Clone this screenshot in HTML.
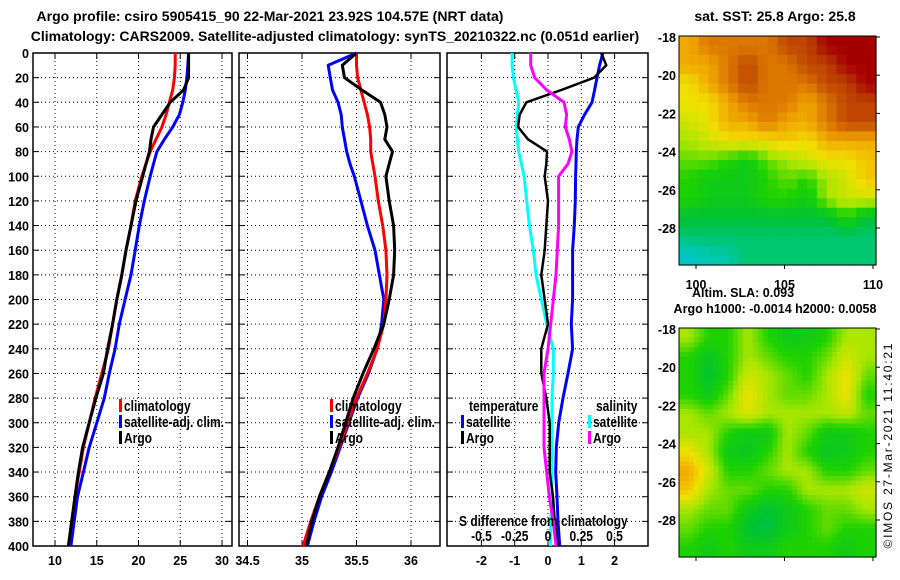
<!DOCTYPE html>
<html><head><meta charset="utf-8">
<style>
html,body{margin:0;padding:0;background:#fff;}
svg{display:block;}
text{font-family:"Liberation Sans",sans-serif;font-weight:bold;fill:#000;}
.t{font-size:14px;}
.k{font-size:12.5px;}
.l{font-size:15px;font-family:"Liberation Sans Narrow","Liberation Sans",sans-serif;}
</style></head>
<body>
<svg id="c" width="900" height="580" viewBox="0 0 900 580" xmlns="http://www.w3.org/2000/svg">
<text class="t" x="270" y="21" text-anchor="middle">Argo profile: csiro 5905415_90 22-Mar-2021 23.92S 104.57E (NRT data)</text>
<text class="t" x="335" y="41" text-anchor="middle">Climatology: CARS2009. Satellite-adjusted climatology: synTS_20210322.nc (0.051d earlier)</text>
<text class="t" x="775" y="21" text-anchor="middle" font-size="12.5">sat. SST: 25.8 Argo: 25.8</text>
<text class="k" x="743" y="297" text-anchor="middle">Altim. SLA: 0.093</text>
<text class="k" x="775" y="313" text-anchor="middle">Argo h1000: -0.0014 h2000: 0.0058</text>
<text x="892" y="446" font-size="12" style="font-weight:normal" text-anchor="middle" textLength="205" lengthAdjust="spacing" transform="rotate(-90 892 446)">©IMOS 27-Mar-2021 11:40:21</text>
</svg>
<script>
const depths=[0,10,20,30,40,50,60,70,80,90,100,120,140,160,180,200,220,240,260,280,300,320,340,360,380,400];
const tempClim=[24.4,24.4,24.3,24.1,23.7,23.3,22.8,22.1,21.4,20.9,20.4,19.6,19.1,18.5,18.0,17.4,16.9,16.4,15.6,14.8,14.1,13.4,12.9,12.4,12.0,11.6];
const tempSat=[26.0,25.9,25.8,25.6,25.3,24.9,24.1,23.1,22.2,21.8,21.4,20.7,20.1,19.6,19.1,18.4,17.7,17.2,16.5,15.9,15.0,14.1,13.4,12.7,12.3,11.9];
const tempArgo=[26.0,26.0,26.0,25.4,23.8,22.8,21.8,21.5,21.3,20.9,20.5,19.7,19.1,18.5,18.0,17.4,16.9,16.3,15.8,14.9,14.1,13.3,12.8,12.4,12.0,11.6];
const salClim=[35.5,35.5,35.51,35.54,35.57,35.6,35.62,35.63,35.63,35.65,35.67,35.7,35.74,35.77,35.78,35.77,35.75,35.69,35.6,35.5,35.42,35.34,35.25,35.16,35.08,35.01];
const salSat=[35.5,35.24,35.26,35.28,35.33,35.36,35.37,35.39,35.41,35.44,35.48,35.54,35.6,35.67,35.71,35.75,35.73,35.69,35.61,35.51,35.43,35.35,35.27,35.18,35.11,35.05];
const salArgo=[35.5,35.37,35.39,35.55,35.72,35.76,35.78,35.76,35.83,35.8,35.77,35.8,35.84,35.85,35.84,35.8,35.75,35.66,35.56,35.47,35.4,35.33,35.25,35.16,35.09,35.04];
const tDiffSat=[1.65,1.55,1.47,1.4,1.32,1.1,0.91,0.87,0.85,0.84,0.83,0.82,0.79,0.74,0.74,0.74,0.7,0.74,0.6,0.45,0.32,0.25,0.23,0.27,0.3,0.35];
const tDiffArgo=[1.6,1.75,1.38,0.4,-0.65,-0.85,-0.9,-0.6,-0.03,-0.05,-0.1,0,-0.05,-0.1,-0.2,-0.1,0,-0.2,-0.2,-0.05,0.05,0.05,0.05,0.15,0.2,0.3];
const sDiffSat=[-0.27,-0.27,-0.26,-0.24,-0.22,-0.23,-0.24,-0.23,-0.22,-0.2,-0.18,-0.16,-0.14,-0.11,-0.09,-0.05,-0.01,0.04,0.04,0.03,0.03,0.03,0.03,0.03,0.02,0.02];
const sDiffArgo=[-0.13,-0.13,-0.1,-0.01,0.12,0.14,0.13,0.16,0.18,0.15,0.08,0.08,0.08,0.07,0.06,0.04,0.02,0.0,-0.03,-0.03,-0.03,-0.03,-0.01,0.01,0.04,0.06];
const depthTicks=[0,20,40,60,80,100,120,140,160,180,200,220,240,260,280,300,320,340,360,380,400];
const tempTicks=[10,15,20,25,30];
const salTicks=[34.5,35,35.5,36];
const diffTicks=[-2,-1,0,1,2];
const sDiffTickLabels=["-0.5","-0.25","0","0.25","0.5"];
const sDiffTicks=[-0.5,-0.25,0,0.25,0.5];
const latTicks=[-18,-20,-22,-24,-26,-28];
const lonTicks=[100,105,110];
const sstGrid=[
[6,7,7,7,7,8,8,9,9,9],[6,6,7,8,7,7,8,8,9,9],[5,6,7,8,7,7,7,8,8,9],[5,5,6,7,7,7,6,7,8,8],
[4.5,5,6,6,7,6,6,7,8,8],[4,4.5,5,5,5,5.5,5,6,6,6],[3.5,3.5,3,2.5,3.5,4,4.5,5,5,5.5],[3,2.5,2.5,2.5,3,3.5,3,4,4.5,5.5],
[3,2.5,2.5,2.5,3,3,2.5,4,4.5,4.5],[2,2,2,2,2,2,2,2,3,2],[1.5,1.5,1.5,1.5,1.5,1.5,1.5,1.5,1.5,1.5],[0.5,1,1,1.5,1.5,1.5,1.5,1.5,1.5,1.5]];
const slaGrid=[
[4,3,3,4,3,2.5,2.5,3,4,4],[3,2.3,3,4,3.5,3,3,3.5,4.5,4],[3,2,3,4.5,4,3.5,3,4,5,3.5],[3,2.5,3.5,5,4,3.5,3.5,4,5,3],
[4,3.5,4,4.7,4,4,4,4,4.3,3.5],[4,4,3,2.5,2.5,4,3.5,2.5,2.5,3],[5,4,2.5,2.3,3,4,3,2.3,2.5,3],[6,4.5,3,3,3.5,4,4,3,3,3.5],
[5.5,4,3.5,3.5,3,3,4,4,4,4.5],[4,3.5,3.5,2.5,2,2.5,3,3.5,3.5,4],[3.5,3,3,2,1.8,2.5,3,3.5,3,3],[3,2.5,3,2.5,2.5,3,3,3,2.5,3]];

const NS="http://www.w3.org/2000/svg";
const svg=document.getElementById('c');
function mk(tag,attrs,parent){const e=document.createElementNS(NS,tag);for(const k in attrs)e.setAttribute(k,attrs[k]);(parent||svg).appendChild(e);return e;}
const Y0=53,Y1=546;
function yD(d){return Y0+(Y1-Y0)*d/400;}
const panels=[
 {x0:33,x1:232,name:'temperature-panel'},
 {x0:239,x1:440,name:'salinity-panel'},
 {x0:447,x1:648,name:'difference-panel'}];
const xT=v=>55+(v-10)*(222-55)/20;
const xS=v=>302+(v-35)*109;
const xD=v=>548+v*33.3;
const xSD=v=>548+v*133;

function grid(p,xs){
  const g=mk('g',{});
  
  
  depthTicks.forEach(d=>{if(d>0&&d<400){mk('line',{x1:p.x0,x2:p.x1,y1:yD(d),y2:yD(d),stroke:'#000','stroke-width':1,'stroke-dasharray':'1 3'},g);}
    mk('line',{x1:p.x0,x2:p.x0+6,y1:yD(d),y2:yD(d),stroke:'#000'},g);
    mk('line',{x1:p.x1-6,x2:p.x1,y1:yD(d),y2:yD(d),stroke:'#000'},g);});
  xs.forEach(x=>{if(x>p.x0+2&&x<p.x1-2)mk('line',{x1:x,x2:x,y1:Y0,y2:Y1,stroke:'#000','stroke-dasharray':'1 3'},g);
    mk('line',{x1:x,x2:x,y1:Y1,y2:Y1-6,stroke:'#000'},g);mk('line',{x1:x,x2:x,y1:Y0,y2:Y0+6,stroke:'#000'},g);});
  const r=mk('rect',{x:p.x0,y:Y0,width:p.x1-p.x0,height:Y1-Y0,fill:'none',stroke:'#000','stroke-width':1.5},g);
  
  
}
grid(panels[0],tempTicks.map(xT));
grid(panels[1],salTicks.map(xS));
grid(panels[2],diffTicks.map(xD));

depthTicks.forEach(d=>{const t=mk('text',{x:29,y:yD(d)+5,'text-anchor':'end',class:'k'});t.textContent=d;
 
 });
tempTicks.forEach(v=>{const t=mk('text',{x:xT(v),y:565,'text-anchor':'middle',class:'k'});t.textContent=v;
 
 });
salTicks.forEach(v=>{const t=mk('text',{x:xS(v),y:565,'text-anchor':'middle',class:'k'});t.textContent=v;
 
 });
diffTicks.forEach(v=>{const t=mk('text',{x:xD(v),y:565,'text-anchor':'middle',class:'k'});t.textContent=v;
 
 });

function line(vals,fx,color,name,w){
  const pts=vals.map((v,i)=>fx(v).toFixed(1)+','+yD(depths[i]).toFixed(1)).join(' ');
  const e=mk('polyline',{points:pts,fill:'none',stroke:color,'stroke-width':w||3,'stroke-linejoin':'round'});
  
  
}
line(tempSat,xT,'#0000ff','temperature-satellite-line');
line(tempClim,xT,'#ff0000','temperature-climatology-line');
line(tempArgo,xT,'#000','temperature-argo-line');
line(salSat,xS,'#0000ff','salinity-satellite-line');
line(salClim,xS,'#ff0000','salinity-climatology-line');
line(salArgo,xS,'#000','salinity-argo-line');
line(sDiffSat,xSD,'#00ffff','salinity-diff-satellite-line');
line(tDiffSat,xD,'#0000ff','temperature-diff-satellite-line');
line(tDiffArgo,xD,'#000','temperature-diff-argo-line',2.5);
line(sDiffArgo,xSD,'#ff00ff','salinity-diff-argo-line');

function condense(t){try{const w=t.getComputedTextLength();if(w>0){t.setAttribute('textLength',(w*0.8).toFixed(1));t.setAttribute('lengthAdjust','spacingAndGlyphs');}}catch(e){}}
function legend(x,y,color,label,name){
  const r=mk('rect',{x:x,y:y-11,width:3,height:13,fill:color});
  
  
  const t=mk('text',{x:x+5,y:y+1,class:'l'});t.textContent=label;
  
  
  condense(t);
}
[[119,'#ff0000','climatology'],[119,'#0000ff','satellite-adj. clim.'],[119,'#000','Argo']].forEach((a,i)=>legend(a[0],410+i*16,a[1],a[2],'legend-entry'));
[[330,'#ff0000','climatology'],[330,'#0000ff','satellite-adj. clim.'],[330,'#000','Argo']].forEach((a,i)=>legend(a[0],410+i*16,a[1],a[2],'legend-entry'));
let tt=mk('text',{x:469,y:411,class:'l'});tt.textContent='temperature';


condense(tt);
tt=mk('text',{x:596,y:411,class:'l'});tt.textContent='salinity';


condense(tt);
legend(461,426,'#0000ff','satellite','legend-entry');
legend(461,442,'#000','Argo','legend-entry');
legend(588,426,'#00ffff','satellite','legend-entry');
legend(588,442,'#ff00ff','Argo','legend-entry');
tt=mk('text',{x:459,y:526,class:'l'});tt.textContent='S difference from climatology';


condense(tt);
sDiffTicks.forEach((v,i)=>{const t=mk('text',{x:xSD(v),y:541,'text-anchor':'middle',class:'l'});t.textContent=sDiffTickLabels[i];
 
 
 condense(t);});

const palette=[[0,190,230],[0,200,170],[0,195,50],[30,210,0],[170,230,0],[240,225,0],[240,170,0],[220,120,0],[190,70,0],[165,0,0]];
function col(v){const i=Math.max(0,Math.min(8,Math.floor(v)));const f=Math.max(0,Math.min(1,v-i));const a=palette[i],b=palette[i+1];
 return 'rgb('+a.map((c,k)=>Math.round(c+(b[k]-c)*f)).join(',')+')';}
function map(gridV,x0,y0,name,smooth){
  const W=197,H=229,rows=gridV.length,cols=gridV[0].length;
  const g=mk('g',{});
  
  
  const sub=smooth?4:2;
  const R=rows*sub,C=cols*sub;
  for(let r=0;r<R;r++)for(let c=0;c<C;c++){
    const fy=(r+0.5)/sub-0.5,fx=(c+0.5)/sub-0.5;
    const r0=Math.max(0,Math.min(rows-1,Math.floor(fy))),c0=Math.max(0,Math.min(cols-1,Math.floor(fx)));
    const r1=Math.min(rows-1,r0+1),c1=Math.min(cols-1,c0+1);
    const ty=Math.max(0,Math.min(1,fy-r0)),tx=Math.max(0,Math.min(1,fx-c0));
    const v=(gridV[r0][c0]*(1-tx)+gridV[r0][c1]*tx)*(1-ty)+(gridV[r1][c0]*(1-tx)+gridV[r1][c1]*tx)*ty;
    const cell=mk('rect',{x:(x0+c*W/C).toFixed(2),y:(y0+r*H/R).toFixed(2),width:(W/C+0.6).toFixed(2),height:(H/R+0.6).toFixed(2),fill:col(v)},g);
    
    
  }
  mk('rect',{x:x0,y:y0,width:W,height:H,fill:'none',stroke:'#000'},g);
  latTicks.forEach(l=>{const y=y0+(-18-l)*19.1+1;
    const t=mk('text',{x:x0-3,y:y+5,'text-anchor':'end',class:'k'});t.textContent=l;
    
    
    mk('line',{x1:x0+W,x2:x0+W+4,y1:y,y2:y,stroke:'#000'});});
  lonTicks.forEach(l=>{const x=x0+17+(l-100)*17.7;mk('line',{x1:x,x2:x,y1:y0+H,y2:y0+H+4,stroke:'#000'});});
}
map(sstGrid,679,36,'sst-map',false);
map(slaGrid,679,328,'sla-map',true);
lonTicks.forEach(l=>{const t=mk('text',{x:696+(l-100)*17.7,y:289,'text-anchor':'middle',class:'k'});t.textContent=l;
 
 });
</script>
</body></html>
